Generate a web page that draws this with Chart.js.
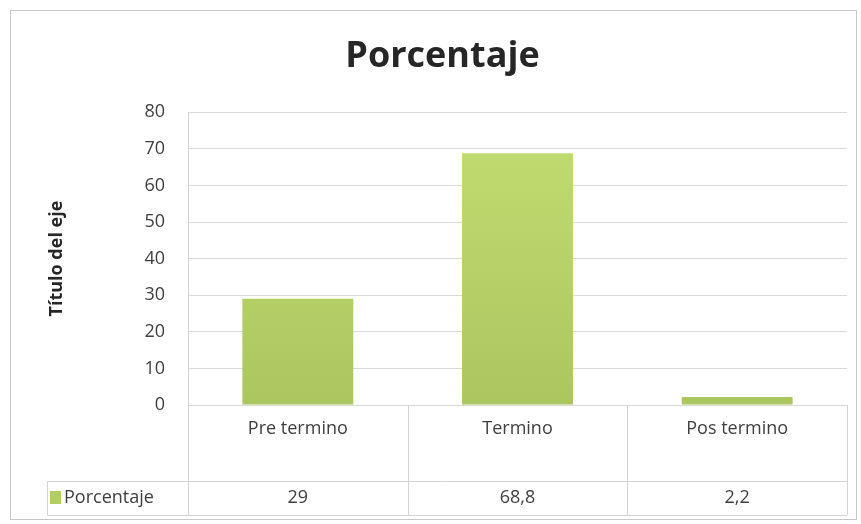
<!DOCTYPE html>
<html>
<head>
<meta charset="utf-8">
<script src="https://cdn.jsdelivr.net/npm/chart.js@4.4.1/dist/chart.umd.min.js"></script>
<style>
  html, body { margin: 0; padding: 0; background: #fff; }
  #wrap { width: 861px; height: 524px; }
</style>
</head>
<body>
<div id="wrap"><canvas id="porcentaje" width="861" height="524"></canvas></div>
<script>
var categorias = ['Pre termino', 'Termino', 'Pos termino'];
var porcentaje = [29, 68.8, 2.2];
var etiquetasTabla = ['29', '68,8', '2,2'];
var serie = 'Porcentaje';

var fuente = "'Open Sans', 'Noto Sans', sans-serif";

// marco, tabla de datos y leyenda bajo el eje
var tablaDatos = {
    id: 'tablaDatos',
    beforeDraw: function (chart) {
        var c = chart.ctx;
        c.save();
        c.strokeStyle = '#c8c8c8';
        c.lineWidth = 1;
        c.strokeRect(10.5, 10.5, 846, 509);
        c.restore();
    },
    afterDraw: function (chart) {
        var c = chart.ctx;
        var x = chart.scales.x;
        var area = chart.chartArea;
        var fila = x.bottom;
        var fin = fila + 34;
        var paso = (area.right - area.left) / categorias.length;
        c.save();
        c.strokeStyle = '#d4d4d4';
        c.lineWidth = 1;
        c.beginPath();
        for (var i = 0; i <= categorias.length; i++) {
            var px = Math.round(area.left + paso * i) + 0.5;
            c.moveTo(px, area.bottom);
            c.lineTo(px, fin);
        }
        c.moveTo(47.5, fila + 0.5);
        c.lineTo(area.right, fila + 0.5);
        c.moveTo(47.5, fin + 0.5);
        c.lineTo(area.right, fin + 0.5);
        c.moveTo(47.5, fila);
        c.lineTo(47.5, fin);
        c.stroke();

        c.fillStyle = '#404040';
        c.font = '18px ' + fuente;
        c.textAlign = 'center';
        c.textBaseline = 'middle';
        for (var j = 0; j < etiquetasTabla.length; j++) {
            c.fillText(etiquetasTabla[j], x.getPixelForValue(j), fila + 17);
        }
        c.fillStyle = '#b3cd66';
        c.fillRect(50, fila + 10, 11, 13);
        c.fillStyle = '#404040';
        c.textAlign = 'left';
        c.fillText(serie, 64, fila + 17);
        c.restore();
    }
};

var ctx = document.getElementById('porcentaje');
var grafico = new Chart(ctx, {
    type: 'bar',
    data: {
        labels: categorias,
        datasets: [{
            label: serie,
            data: porcentaje,
            backgroundColor: function (context) {
                var area = context.chart.chartArea;
                if (!area) return '#b5cf68';
                var g = context.chart.ctx.createLinearGradient(0, area.top, 0, area.bottom);
                g.addColorStop(0, '#c2de72');
                g.addColorStop(1, '#abc65f');
                return g;
            },
            barPercentage: 0.505,
            categoryPercentage: 1
        }]
    },
    options: {
        responsive: false,
        animation: false,
        layout: {
            padding: { left: 38, right: 14, top: 9, bottom: 43 }
        },
        plugins: {
            legend: { display: false },
            tooltip: { enabled: false },
            title: {
                display: true,
                text: 'Porcentaje',
                color: '#262626',
                font: { family: fuente, size: 36, weight: 'bold' },
                padding: { top: 26, bottom: 34 }
            }
        },
        scales: {
            x: {
                grid: { display: false },
                border: { display: false },
                ticks: {
                    color: '#404040',
                    font: { family: fuente, size: 18 },
                    padding: 5
                },
                afterFit: function (scale) { scale.height = 76; }
            },
            y: {
                min: 0,
                max: 80,
                ticks: {
                    stepSize: 10,
                    color: '#404040',
                    font: { family: fuente, size: 18 },
                    padding: 23
                },
                grid: { color: '#d9d9d9', drawTicks: false },
                border: { color: '#d4d4d4' },
                title: {
                    display: true,
                    text: 'Título del eje',
                    color: '#262626',
                    font: { family: fuente, size: 18, weight: 'bold' },
                    padding: { top: 8, bottom: 0 }
                },
                afterFit: function (scale) { scale.width = 150; }
            }
        }
    },
    plugins: [tablaDatos]
});
</script>
</body>
</html>
